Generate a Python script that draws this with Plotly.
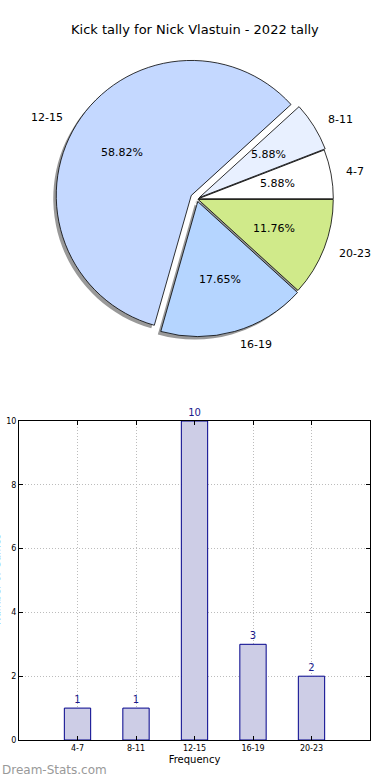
import math
import plotly.graph_objects as go

# ---------------- data ----------------
title_text = "Kick tally for Nick Vlastuin - 2022 tally"
categories = ["4-7", "8-11", "12-15", "16-19", "20-23"]
counts = [1, 1, 10, 3, 2]
y_ticks = [0, 2, 4, 6, 8, 10]
x_title = "Frequency"
y_title = "Number of Games"
watermark = "Dream-Stats.com"

# ---------------- style ----------------
W, H = 390, 780
FONT = "DejaVu Sans"
slice_colors = ["#ffffff", "#e8f0ff", "#c4d8ff", "#b5d5ff", "#d0ea8a"]
pulls = [0.01, 0.02, 0.05, 0.02, 0.01]
CX, CY, R = 197, 199, 135          # pie centre / radius in px
SHADOW = 3                          # shadow offset px
bar_fill = "#cdcde6"
bar_line = "#00008b"
navy = "#1a1a8c"

maxpull = max(pulls)
half = R * (1 + maxpull)
total = sum(counts)
# plotly (counterclockwise) puts the end of the first slice at `rotation`;
# shift so the first slice starts at 3 o'clock like matplotlib
rotation = 90 - 360 * counts[0] / total


def px(x, y):
    return x / W, 1 - y / H


dom_x = [(CX - half) / W, (CX + half) / W]
dom_y = [1 - (CY + half) / H, 1 - (CY - half) / H]

fig = go.Figure()

# shadow pie
fig.add_trace(go.Pie(
    labels=categories, values=counts, sort=False, direction="counterclockwise",
    rotation=rotation, pull=pulls, textinfo="none", hoverinfo="skip",
    marker=dict(colors=["#999999"] * len(counts), line=dict(width=0)),
    domain=dict(x=[dom_x[0] - SHADOW / W, dom_x[1] - SHADOW / W],
                y=[dom_y[0] - SHADOW / H, dom_y[1] - SHADOW / H]),
    showlegend=False,
))
# main pie
fig.add_trace(go.Pie(
    labels=categories, values=counts, sort=False, direction="counterclockwise",
    rotation=rotation, pull=pulls, textinfo="none", hoverinfo="label+percent",
    marker=dict(colors=slice_colors, line=dict(color="#000000", width=0.8)),
    domain=dict(x=dom_x, y=dom_y),
    showlegend=False,
))

# pie labels and percentages (positions derived from the data)
annotations = []
cum = 0
for lab, v, p in zip(categories, counts, pulls):
    mid = math.radians(360 * (cum + v / 2) / total)
    cum += v
    c, s = math.cos(mid), math.sin(mid)
    ox, oy = CX + p * R * c, CY - p * R * s
    lx, ly = ox + 1.1 * R * c, oy - 1.1 * R * s
    xa, ya = px(lx, ly)
    annotations.append(dict(
        x=xa, y=ya, xref="paper", yref="paper", text=lab, showarrow=False,
        xanchor="left" if c > 0 else "right", yanchor="middle",
        font=dict(family=FONT, size=11, color="#000000")))
    tx, ty = px(ox + 0.6 * R * c, oy - 0.6 * R * s)
    annotations.append(dict(
        x=tx, y=ty, xref="paper", yref="paper",
        text="%.2f%%" % (100 * v / total), showarrow=False,
        xanchor="center", yanchor="middle",
        font=dict(family=FONT, size=11, color="#000000")))

# bar chart
fig.add_trace(go.Bar(
    x=categories, y=counts, width=0.45,
    marker=dict(color=bar_fill, line=dict(color=bar_line, width=1)),
    text=[str(c) for c in counts], textposition="outside", cliponaxis=False,
    textfont=dict(family=FONT, size=10, color=navy),
    hoverinfo="x+y", showlegend=False,
))

# title
tx, ty = px(195, 30)
annotations.append(dict(x=tx, y=ty, xref="paper", yref="paper", text=title_text,
                        showarrow=False, xanchor="center", yanchor="middle",
                        font=dict(family=FONT, size=13, color="#000000")))
# watermark
wx, wy = px(0, 770)
annotations.append(dict(x=wx, y=wy, xref="paper", yref="paper", text=watermark,
                        showarrow=False, xanchor="left", yanchor="middle",
                        font=dict(family=FONT, size=12, color="#999999")))
# y title (mostly cut off, as in the reference)
yx, yy = px(-4, 580)
annotations.append(dict(x=yx, y=yy, xref="paper", yref="paper", text=y_title,
                        showarrow=False, xanchor="center", yanchor="middle", textangle=-90,
                        font=dict(family=FONT, size=10, color="#000000")))

axis_common = dict(
    showline=True, linecolor="#000000", linewidth=1, mirror="ticks",
    ticks="inside", ticklen=4, tickcolor="#000000",
    showgrid=True, gridcolor="#bcbcbc", griddash="1px,2px", gridwidth=1,
    zeroline=False, automargin=False,
    tickfont=dict(family=FONT, size=8, color="#000000"),
)

fig.update_layout(
    width=W, height=H, margin=dict(l=0, r=0, t=0, b=0, autoexpand=False),
    paper_bgcolor="#ffffff", plot_bgcolor="#ffffff",
    font=dict(family=FONT),
    showlegend=False,
    annotations=annotations,
    xaxis=dict(domain=[19 / W, 370 / W], type="category", range=[-1, 5],
               title=dict(text=x_title, font=dict(family=FONT, size=10, color="#000000"), standoff=4),
               **axis_common),
    yaxis=dict(domain=[1 - 740 / H, 1 - 421 / H], range=[0, 10], tickvals=y_ticks,
               **axis_common),
)

fig.write_html("out.html", config={"displayModeBar": False},
               post_script="document.body.style.margin='0';")
